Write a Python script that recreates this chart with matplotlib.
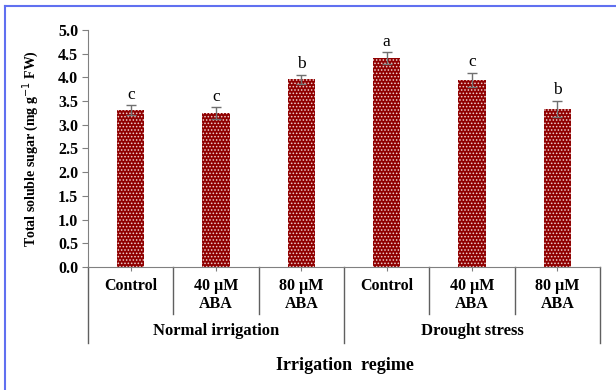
import matplotlib.pyplot as plt
import numpy as np

treatments = ['Control', '40 µM\nABA', '80 µM\nABA', 'Control', '40 µM\nABA', '80 µM\nABA']
groups = ['Normal irrigation', 'Drought stress']
sugar = [3.31, 3.25, 3.96, 4.41, 3.95, 3.34]
err = [0.10, 0.12, 0.10, 0.12, 0.15, 0.17]
letters = ['c', 'c', 'b', 'a', 'c', 'b']

plt.rcParams['font.family'] = 'Liberation Serif'
plt.rcParams['hatch.linewidth'] = 0.7

fig = plt.figure(figsize=(6.16, 3.9), dpi=100)
ax = fig.add_axes([0.1429, 0.3154, 0.8312, 0.6077])

x = np.arange(len(sugar))
ax.bar(x, sugar, width=0.32, color='#8f0000', edgecolor='#f0d0d0', hatch='.....', linewidth=0)
ax.errorbar(x, sugar, yerr=err, fmt='none', ecolor='#707070', elinewidth=1, capsize=3.5, capthick=1)
for xi, v, e, l in zip(x, sugar, err, letters):
    ax.text(xi, v + e + 0.05, l, ha='center', va='bottom', fontsize=12.5)

ax.set_xlim(-0.5, len(sugar) - 0.5)
ax.set_ylim(0, 5)
ax.set_yticks(np.arange(0, 5.01, 0.5))
ax.set_yticklabels([f'{v:.1f}' for v in np.arange(0, 5.01, 0.5)], fontweight='bold', fontsize=11.5)
ax.set_xticks(x)
ax.set_xticklabels(treatments, fontweight='bold', fontsize=11.5, linespacing=1.15)
ax.tick_params(axis='x', length=3, color='#808080', pad=5)
ax.tick_params(axis='y', length=4, color='#808080', pad=3)

for s in ['top', 'right']:
    ax.spines[s].set_visible(False)
ax.spines['left'].set_color('#808080')
ax.spines['bottom'].set_color('#808080')

# separators below axis
for b in np.arange(-0.5, len(sugar), 1):
    low = -0.32 if b in (-0.5, 2.5, 5.5) else -0.2
    ax.plot([b, b], [0, low], transform=ax.get_xaxis_transform(), color='#606060',
            lw=1, clip_on=False)

for i, g in enumerate(groups):
    ax.text(1 + 3 * i, -0.27, g, transform=ax.get_xaxis_transform(), ha='center',
            va='center', fontweight='bold', fontsize=12)

fig.text(0.56, 0.062, 'Irrigation  regime', ha='center', va='center', fontweight='bold', fontsize=13)
ax.set_ylabel('Total soluble sugar (mg g$^{-1}$ FW)', fontweight='bold', fontsize=10, labelpad=12)

# blue frame on top and left
fig.add_artist(plt.Line2D([0.008, 1.0], [0.985, 0.985], color='#6070f0', lw=1.5))
fig.add_artist(plt.Line2D([0.008, 0.008], [0.0, 0.985], color='#6070f0', lw=1.5))

fig.savefig('out.png', dpi=100)
